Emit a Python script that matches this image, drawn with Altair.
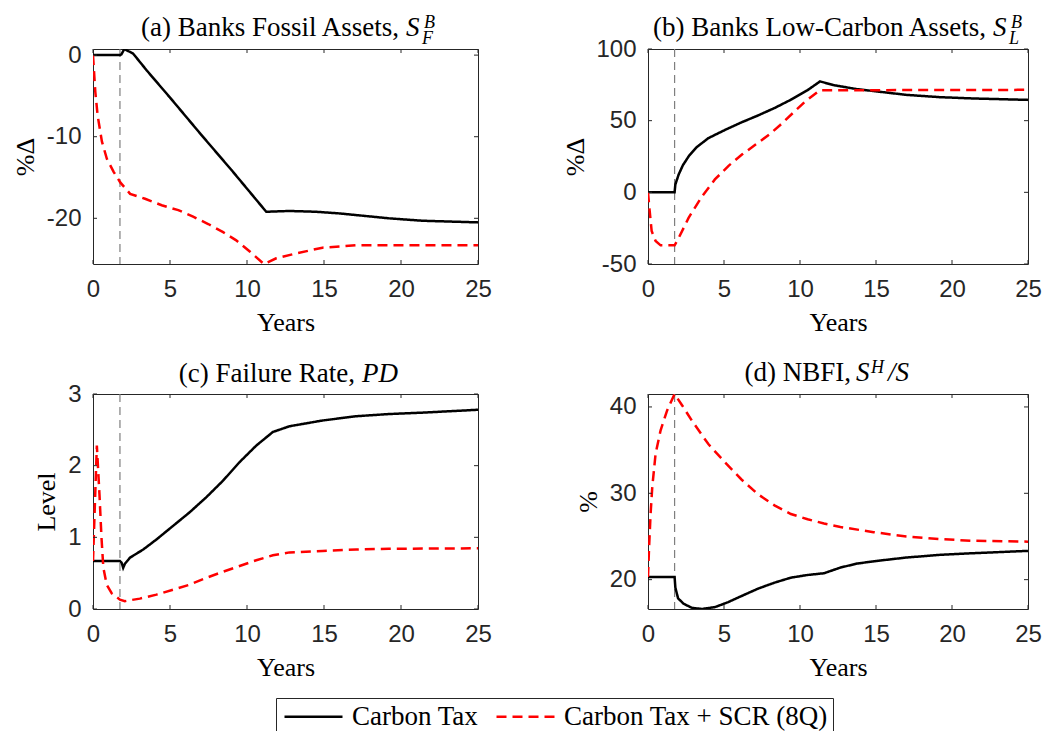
import altair as alt
import pandas as pd

SERIES = ["Carbon Tax", "Carbon Tax + SCR (8Q)"]
POLICY_T = [1.75]
X_TICKS = [0, 5, 10, 15, 20, 25]

# (a) Banks fossil assets
a_ct_t = [0, 1.75, 1.85, 2.03, 2.6, 3.5, 5.0, 7.0, 9.0, 10.5, 11.25, 12.76, 14.5, 16.0, 17.07, 19.2, 21.4, 25]
a_ct_v = [0, 0, 0.1, 0.74, 0.2, -1.9, -5.2, -9.7, -14.1, -17.5, -19.2, -19.1, -19.2, -19.4, -19.6, -20.0, -20.3, -20.5]
a_scr_t = [0, 0.15, 0.3, 0.58, 0.9, 1.34, 1.77, 2.41, 3.38, 4.46, 5.54, 6.5, 7.48, 8.45, 9.3, 10.2, 11.1, 11.9, 13.2, 14.9, 17.1, 25]
a_scr_v = [0, -4.5, -7.4, -10.6, -12.7, -14.3, -15.6, -17.0, -17.6, -18.4, -19.0, -19.8, -20.7, -21.7, -22.7, -24.1, -25.6, -24.9, -24.3, -23.6, -23.3, -23.3]
a_yticks = [-20, -10, 0]

# (b) Banks low-carbon assets
b_ct_t = [0, 1.75, 1.80, 2.02, 2.3, 2.7, 3.2, 3.97, 5.06, 6.15, 7.23, 8.32, 9.4, 10.5, 11.32, 12.2, 13.75, 15.05, 17.0, 19.2, 21.35, 25]
b_ct_v = [0, 0, 5.5, 12.5, 19.0, 25.5, 31.5, 37.8, 43.5, 48.8, 53.6, 58.8, 64.6, 71.3, 77.4, 74.8, 72.0, 70.4, 68.0, 66.4, 65.5, 64.5]
b_scr_t = [0, 0.11, 0.24, 0.5, 0.83, 1.75, 2.02, 2.67, 3.54, 4.4, 5.3, 6.2, 7.1, 8.0, 8.7, 9.5, 10.3, 11.3, 25]
b_scr_v = [0, -13, -27, -34, -37, -37, -31.8, -17.8, -3, 9, 18.5, 26.5, 33.5, 40.5, 47, 55, 63, 71.2, 71.5]
b_yticks = [-50, 0, 50, 100]

# (c) Failure rate
c_ct_t = [0, 1.75, 1.86, 1.96, 2.07, 2.4, 3.26, 4.12, 5.2, 6.28, 7.36, 8.44, 9.52, 10.6, 11.68, 12.76, 14.9, 17.1, 19.2, 21.4, 25]
c_ct_v = [0.67, 0.67, 0.645, 0.575, 0.63, 0.716, 0.83, 0.97, 1.16, 1.35, 1.56, 1.79, 2.05, 2.28, 2.47, 2.55, 2.63, 2.69, 2.72, 2.74, 2.78]
c_scr_t = [0, 0.25, 0.42, 0.55, 0.67, 0.89, 1.21, 1.75, 2.07, 3.04, 4.12, 5.2, 6.28, 7.36, 8.44, 9.52, 10.6, 11.68, 12.76, 14.9, 17.1, 19.2, 25]
c_scr_v = [0.67, 2.28, 1.6, 1.0, 0.58, 0.34, 0.22, 0.13, 0.11, 0.145, 0.2, 0.27, 0.34, 0.435, 0.52, 0.6, 0.68, 0.75, 0.79, 0.81, 0.83, 0.84, 0.847]
c_yticks = [0, 1, 2, 3]

# (d) NBFI share
d_ct_t = [0, 1.75, 1.80, 1.98, 2.35, 2.89, 3.54, 4.41, 5.28, 6.15, 7.23, 8.32, 9.4, 10.5, 11.58, 12.66, 13.75, 15.05, 17.0, 19.2, 21.35, 25]
d_ct_v = [20.3, 20.3, 19.07, 17.83, 17.2, 16.74, 16.6, 16.82, 17.4, 18.1, 18.95, 19.65, 20.23, 20.54, 20.74, 21.4, 21.86, 22.17, 22.56, 22.87, 23.06, 23.33]
d_scr_t = [0, 0.07, 0.17, 0.28, 0.5, 0.83, 1.26, 1.75, 2.24, 2.89, 3.97, 5.06, 6.15, 7.23, 8.32, 9.4, 10.5, 11.58, 12.66, 14.84, 17.0, 19.2, 21.35, 25]
d_scr_v = [20.3, 23.7, 27.6, 30.7, 34.6, 37.3, 39.6, 41.5, 40.2, 38.4, 35.7, 33.6, 31.6, 29.9, 28.6, 27.6, 27.0, 26.5, 26.1, 25.5, 25.0, 24.7, 24.5, 24.4]
d_yticks = [20, 30, 40]

# titles (text pieces)
TITLE_MAIN = ["(a) Banks Fossil Assets,", "(b) Banks Low-Carbon Assets,", "(c) Failure Rate,", "(d) NBFI,"]
Y_TITLES = ["%\u0394", "%\u0394", "Level", "%"]
X_TITLE = "Years"

SERIF = "Liberation Serif"
SANS = "Liberation Sans"
AX = "#262626"
TFS = 27


def make_df(ct_t, ct_v, scr_t, scr_v):
    return pd.concat([
        pd.DataFrame({"t": ct_t, "v": ct_v, "series": SERIES[0]}),
        pd.DataFrame({"t": scr_t, "v": scr_v, "series": SERIES[1]}),
    ], ignore_index=True)


LEGEND = alt.Legend(
    title=None, orient="none", legendX=183, legendY=649, direction="horizontal",
    symbolType="M-1,0H4.8", symbolSize=400, symbolStrokeWidth=2.5,
    labelFont=SERIF, labelFontSize=27, labelColor="black", labelLimit=600,
    labelOffset=44, columnPadding=12, padding=5, strokeColor=AX, fillColor="white",
)


def txt(s, x, y, size, italic=False, align="left"):
    return alt.Chart(pd.DataFrame({"s": [s]})).mark_text(
        align=align, baseline="alphabetic", font=SERIF, fontSize=size,
        fontStyle="italic" if italic else "normal", color="black",
    ).encode(x=alt.value(x), y=alt.value(y), text="s:N")


def panel(df, ydom, yticks, ytitle, ytitle_x, W, H, pieces):
    xs = alt.Scale(domain=[0, 25], nice=False, zero=False)
    ys = alt.Scale(domain=ydom, nice=False, zero=False)
    xaxis = alt.Axis(
        values=X_TICKS, title=X_TITLE, titleFont=SERIF, titleFontSize=26,
        titleFontWeight="normal", titleColor="black", titleBaseline="alphabetic",
        titleY=66, titleX=W / 2, labelFlush=False, labelOverlap=False,
        labelPadding=13, ticks=False, tickSize=0, domain=False, grid=False,
    )
    yaxis = alt.Axis(
        values=yticks, title=ytitle, titleFont=SERIF, titleFontSize=26,
        titleFontWeight="normal", titleColor="black", titleBaseline="alphabetic",
        titleX=ytitle_x, titleY=H / 2, titleAngle=270, labelFlush=False, labelOverlap=False,
        labelPadding=12, ticks=False, tickSize=0, domain=False, grid=False,
        labelExpr="'' + datum.value",
    )
    X = alt.X("t:Q", scale=xs, axis=xaxis)
    Y = alt.Y("v:Q", scale=ys, axis=yaxis)
    vline = alt.Chart(pd.DataFrame({"t": POLICY_T})).mark_rule(
        color="#7f7f7f", strokeDash=[8, 5], strokeWidth=1.2
    ).encode(x=X)
    lines = alt.Chart(df).mark_line(strokeWidth=2.5, clip=True).encode(
        x=X, y=Y,
        color=alt.Color("series:N", scale=alt.Scale(domain=SERIES, range=["#000000", "#ff0000"]), legend=LEGEND),
        strokeDash=alt.StrokeDash("series:N", scale=alt.Scale(domain=SERIES, range=[[1, 0], [10, 6]]), legend=LEGEND),
    )
    xt = alt.Chart(pd.DataFrame({"t": X_TICKS}))
    yt = alt.Chart(pd.DataFrame({"v": yticks}))
    tk = dict(color=AX, strokeWidth=1)
    ticks = [
        xt.mark_rule(**tk).encode(x=X, y=alt.value(H), y2=alt.value(H - 4)),
        xt.mark_rule(**tk).encode(x=X, y=alt.value(0), y2=alt.value(4)),
        yt.mark_rule(**tk).encode(y=Y, x=alt.value(0), x2=alt.value(4)),
        yt.mark_rule(**tk).encode(y=Y, x=alt.value(W), x2=alt.value(W - 4)),
    ]
    return alt.layer(vline, lines, *ticks, *pieces).properties(width=W, height=H)


WA, WB, H = 385, 380, 215

pa = panel(make_df(a_ct_t, a_ct_v, a_scr_t, a_scr_v), [-25.6, 0.75], a_yticks, Y_TITLES[0], -60, WA, H, [
    txt(TITLE_MAIN[0], 306, -13, TFS, align="right"),
    txt("S", 313, -13, TFS, italic=True),
    txt("B", 331, -21, 18, italic=True),
    txt("F", 329, -5, 18, italic=True),
])
pb = panel(make_df(b_ct_t, b_ct_v, b_scr_t, b_scr_v), [-50, 100], b_yticks, Y_TITLES[1], -65, WB, H, [
    txt(TITLE_MAIN[1], 338, -13, TFS, align="right"),
    txt("S", 345, -13, TFS, italic=True),
    txt("B", 363, -21, 18, italic=True),
    txt("L", 361, -5, 18, italic=True),
])
pc = panel(make_df(c_ct_t, c_ct_v, c_scr_t, c_scr_v), [0, 3], c_yticks, Y_TITLES[2], -39, WA, H, [
    txt(TITLE_MAIN[2], 262, -12, TFS, align="right"),
    txt("PD", 269, -12, TFS, italic=True),
])
pd_ = panel(make_df(d_ct_t, d_ct_v, d_scr_t, d_scr_v), [16.6, 41.5], d_yticks, Y_TITLES[3], -52, WB, H, [
    txt(TITLE_MAIN[3], 203, -13, TFS, align="right"),
    txt("S", 208, -13, TFS, italic=True),
    txt("H", 223, -21, 18, italic=True),
    txt("/S", 240, -13, TFS, italic=True),
])

chart = alt.concat(pa, pb, pc, pd_, columns=2, spacing={"row": 130, "column": 170}, bounds="flush").resolve_scale(
    color="shared", strokeDash="shared"
).properties(
    padding={"left": 3, "top": 5, "right": 0, "bottom": 0},
    background="white",
).configure_view(
    stroke=AX, strokeWidth=1
).configure_axis(
    labelFont=SANS, labelFontSize=24, labelColor=AX,
)

chart.save("out.html", embed_options={"renderer": "svg", "actions": False})
